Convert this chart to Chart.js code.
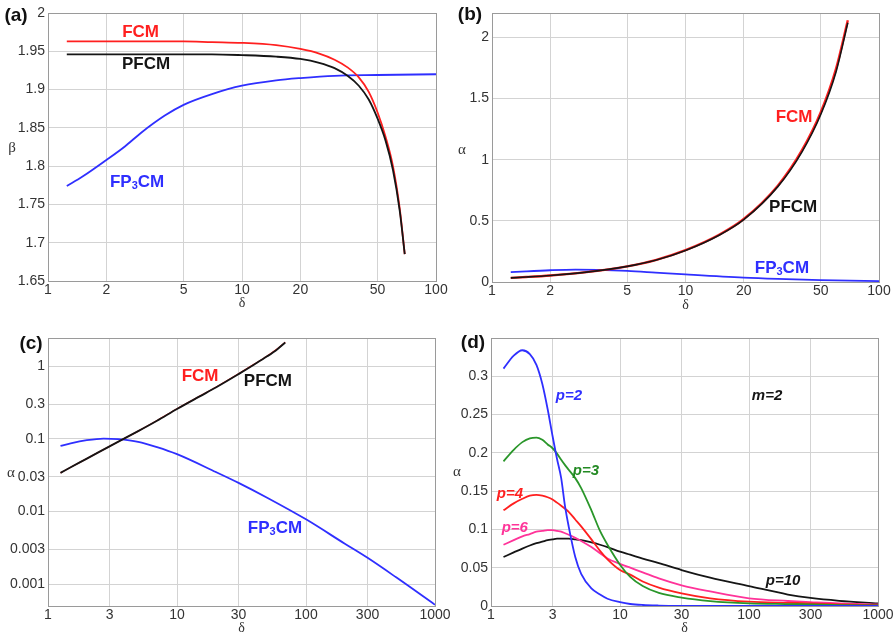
<!DOCTYPE html>
<html>
<head>
<meta charset="utf-8">
<script src="https://cdn.jsdelivr.net/npm/chart.js@4.4.0/dist/chart.umd.min.js"></script>
<style>
  html, body { margin: 0; padding: 0; background: #fff; }
  #wrap { position: relative; width: 895px; height: 637px; overflow: hidden; }
  canvas { position: absolute; }
</style>
</head>
<body>
<div id="wrap">
  <canvas id="cA" width="470" height="310" style="left:0;top:0"></canvas>
  <canvas id="cB" width="450" height="310" style="left:445px;top:0"></canvas>
  <canvas id="cC" width="470" height="327" style="left:0;top:310px"></canvas>
  <canvas id="cD" width="450" height="327" style="left:445px;top:310px"></canvas>
</div>
<script>
"use strict";

// ── DATA ────────────────────────────────────
// (a) beta vs delta
const xBetaFcm   = [1.25, 1.5, 2, 3, 5, 7, 10, 15, 20, 25, 30, 35, 40, 45, 50, 55, 60, 65, 69];
const betaFCM    = [1.963, 1.963, 1.963, 1.963, 1.963, 1.962, 1.961, 1.958, 1.953, 1.947, 1.939, 1.929, 1.916, 1.897, 1.870, 1.838, 1.800, 1.745, 1.685];
const betaPFCM   = [1.946, 1.946, 1.946, 1.946, 1.946, 1.946, 1.945, 1.943, 1.940, 1.935, 1.928, 1.918, 1.905, 1.887, 1.862, 1.833, 1.795, 1.742, 1.685];
const xBetaFp3   = [1.25, 1.5, 2, 2.5, 3, 4, 5, 7, 10, 15, 20, 30, 50, 100];
const betaFP3CM  = [1.774, 1.786, 1.808, 1.826, 1.843, 1.866, 1.880, 1.894, 1.905, 1.912, 1.915, 1.918, 1.919, 1.920];

// (b), (c) alpha vs delta
const xAlphaFcm  = [1.25, 1.5, 2, 3, 5, 7, 10, 15, 20, 30, 40, 50, 60, 69];
const alphaPFCM  = [0.034, 0.0407, 0.0535, 0.079, 0.128, 0.178, 0.258, 0.385, 0.510, 0.780, 1.065, 1.370, 1.720, 2.120];
const alphaFCM   = [0.034, 0.0407, 0.0535, 0.079, 0.128, 0.179, 0.260, 0.388, 0.515, 0.788, 1.078, 1.388, 1.745, 2.140];
const xAlphaFp3  = [1.25, 1.5, 2, 2.7, 3.5, 5, 7, 10, 20, 30, 50, 100, 200, 300, 500, 1000];
const alphaFP3CM = [0.080, 0.087, 0.096, 0.101, 0.099, 0.091, 0.077, 0.0616, 0.035, 0.0248, 0.0155, 0.0078, 0.0036, 0.0023, 0.00124, 0.00052];

// (d) alpha vs delta for several p (m=2)
const xD   = [1.25, 1.5, 1.75, 2, 2.25, 2.5, 2.75, 3, 3.25, 3.5, 3.75, 4, 4.5, 5, 6, 7, 8, 10, 12, 15, 20, 30, 50, 100, 200, 300, 500, 1000];
const p2   = [0.310, 0.327, 0.334, 0.329, 0.315, 0.290, 0.257, 0.222, 0.192, 0.167, 0.130, 0.104, 0.064, 0.042, 0.023, 0.015, 0.0095, 0.005, 0.0026, 0.0013, 0.0006, 0.0002, 0.0001, 0, 0, 0, 0, 0];
const p3   = [0.189, 0.204, 0.214, 0.219, 0.220, 0.217, 0.211, 0.206, 0.199, 0.191, 0.184, 0.178, 0.167, 0.154, 0.125, 0.098, 0.080, 0.054, 0.038, 0.026, 0.017, 0.011, 0.0065, 0.0035, 0.0025, 0.002, 0.0012, 0.0008];
const p4   = [0.125, 0.134, 0.140, 0.144, 0.145, 0.144, 0.142, 0.139, 0.135, 0.131, 0.127, 0.123, 0.113, 0.104, 0.087, 0.072, 0.061, 0.047, 0.041, 0.032, 0.024, 0.0165, 0.010, 0.0056, 0.0042, 0.0035, 0.0022, 0.0013];
const p6   = [0.080, 0.086, 0.091, 0.094, 0.097, 0.098, 0.099, 0.099, 0.098, 0.097, 0.095, 0.093, 0.089, 0.085, 0.077, 0.069, 0.062, 0.055, 0.050, 0.044, 0.036, 0.027, 0.019, 0.010, 0.0065, 0.005, 0.0033, 0.002];
const p10  = [0.064, 0.070, 0.075, 0.079, 0.082, 0.084, 0.086, 0.087, 0.088, 0.088, 0.088, 0.088, 0.087, 0.086, 0.083, 0.080, 0.077, 0.071, 0.067, 0.062, 0.056, 0.047, 0.037, 0.026, 0.015, 0.0105, 0.0068, 0.0035];

// ── TICKS ───────────────────────────────────
const xTicksA   = [1, 2, 5, 10, 20, 50, 100];
const yTicksA   = [1.65, 1.7, 1.75, 1.8, 1.85, 1.9, 1.95, 2];
const yTicksB   = [0, 0.5, 1, 1.5, 2];
const xTicksCD  = [1, 3, 10, 30, 100, 300, 1000];
const yTicksC   = [0.001, 0.003, 0.01, 0.03, 0.1, 0.3, 1];
const yTicksD   = [0, 0.05, 0.1, 0.15, 0.2, 0.25, 0.3];

// ── STYLE ───────────────────────────────────
const RED = "#ff1f1f", BLACK = "#151515", BLUE = "#2f2fff", GREEN = "#2a962a", PINK = "#ff3399";
const GRID = "#d3d3d3", BOX = "#9a9a9a", TICK = "#333";
const SANS = "'Liberation Sans', Arial, sans-serif";
const SERIF = "'Liberation Serif', 'DejaVu Serif', serif";

const pts = (xs, ys) => xs.map((x, i) => ({ x, y: ys[i] }));
const line = (xs, ys, color, w) => ({ data: pts(xs, ys), borderColor: color, borderWidth: w || 1.8 });

const FP3 = [{ t: "FP" }, { t: "3", sub: true }, { t: "CM" }];
const modelFont = "bold 17px " + SANS;
const pFont = "italic bold 15px " + SANS;

/* text + box plugin: panel letters, axis symbols and curve labels */
function drawRich(ctx, it, x, y) {
  const segs = it.segs || [{ t: it.text }];
  const big = it.font, small = it.font.replace(/\d+px/, "11px");
  let w = 0;
  segs.forEach(s => { ctx.font = s.sub ? small : big; w += ctx.measureText(s.t).width; });
  let cx = x - w / 2;
  ctx.fillStyle = it.color;
  ctx.textAlign = "left";
  ctx.textBaseline = "middle";
  segs.forEach(s => {
    ctx.font = s.sub ? small : big;
    ctx.fillText(s.t, cx, s.sub ? y + 4 : y);
    cx += ctx.measureText(s.t).width;
  });
}

const textPlugin = {
  id: "panelText",
  afterDraw(chart, args, opts) {
    const { ctx, chartArea: a, scales } = chart;
    ctx.save();
    ctx.strokeStyle = BOX;
    ctx.lineWidth = 1;
    ctx.strokeRect(Math.round(a.left) + 0.5, Math.round(a.top) + 0.5,
                   Math.round(a.right - a.left), Math.round(a.bottom - a.top));
    (opts.items || []).forEach(it => {
      let x = it.px, y = it.py;
      if (it.x !== undefined) {
        x = scales.x.getPixelForValue(it.x);
        y = scales.y.getPixelForValue(it.y);
      }
      drawRich(ctx, it, x, y);
    });
    ctx.restore();
  }
};

/* shared panel factory */
function panel(id, p) {
  const tickFont = { family: SANS, size: 14 };
  return new Chart(document.getElementById(id), {
    type: "line",
    data: { datasets: p.datasets },
    plugins: [textPlugin],
    options: {
      responsive: false,
      animation: false,
      layout: { padding: p.pad },
      elements: { point: { radius: 0 }, line: { cubicInterpolationMode: "monotone" } },
      plugins: { legend: { display: false }, tooltip: { enabled: false }, panelText: { items: p.texts } },
      scales: {
        x: {
          type: "logarithmic", min: p.xMin, max: p.xMax,
          afterBuildTicks: s => { s.ticks = p.xTicks.map(v => ({ value: v })); },
          afterFit: s => { s.height = p.xH; s.paddingLeft = 0; s.paddingRight = 0; },
          ticks: { color: TICK, font: tickFont, padding: 1, maxRotation: 0, autoSkip: false, callback: v => String(v) },
          grid: { color: GRID, drawTicks: false },
          border: { color: BOX },
          title: { display: true, text: "δ", color: "#333", font: { family: SERIF, size: 14, lineHeight: 1 }, padding: { top: 0, bottom: p.titlePad } }
        },
        y: {
          type: p.yType, min: p.yMin, max: p.yMax,
          afterBuildTicks: s => { s.ticks = p.yTicks.map(v => ({ value: v })); },
          afterFit: s => { s.width = p.yW; s.paddingTop = 0; s.paddingBottom = 0; },
          ticks: { color: TICK, font: tickFont, padding: 3, autoSkip: false, callback: v => String(v) },
          grid: { color: GRID, drawTicks: false },
          border: { color: BOX }
        }
      }
    }
  });
}

// ── (a) ─────────────────────────────────────
panel("cA", {
  pad: { left: 0, top: 13, right: 34, bottom: 0 }, yW: 48, xH: 29, titlePad: 0,
  xMin: 1, xMax: 100, xTicks: xTicksA,
  yType: "linear", yMin: 1.65, yMax: 2, yTicks: yTicksA,
  datasets: [
    line(xBetaFcm, betaPFCM, BLACK),
    line(xBetaFcm, betaFCM, RED),
    line(xBetaFp3, betaFP3CM, BLUE)
  ],
  texts: [
    { text: "(a)", px: 16, py: 16, font: "bold 19px " + SANS, color: "#111" },
    { text: "β", px: 12, py: 148, font: "15px " + SERIF, color: "#333" },
    { text: "FCM", x: 3.0, y: 1.975, font: modelFont, color: RED },
    { text: "PFCM", x: 3.2, y: 1.933, font: modelFont, color: BLACK },
    { segs: FP3, x: 2.88, y: 1.779, font: modelFont, color: BLUE }
  ]
});

// ── (b) ─────────────────────────────────────
panel("cB", {
  pad: { left: 0, top: 13, right: 16, bottom: 0 }, yW: 47, xH: 28, titlePad: -2,
  xMin: 1, xMax: 100, xTicks: xTicksA,
  yType: "linear", yMin: 0, yMax: 2.2, yTicks: yTicksB,
  datasets: [
    line(xAlphaFcm, alphaPFCM, BLACK, 1.6),
    line(xAlphaFcm, alphaFCM, RED, 2.4),
    line(xAlphaFp3, alphaFP3CM, BLUE)
  ],
  texts: [
    { text: "(b)", px: 25, py: 15, font: "bold 19px " + SANS, color: "#111" },
    { text: "α", px: 17, py: 150, font: "15px " + SERIF, color: "#333" },
    { text: "FCM", x: 36.4, y: 1.344, font: modelFont, color: RED },
    { text: "PFCM", x: 36, y: 0.607, font: modelFont, color: BLACK },
    { segs: FP3, x: 31.5, y: 0.115, font: modelFont, color: BLUE }
  ]
});

// ── (c) ─────────────────────────────────────
panel("cC", {
  pad: { left: 0, top: 28, right: 35, bottom: 0 }, yW: 48, xH: 31, titlePad: 2,
  xMin: 1, xMax: 1000, xTicks: xTicksCD,
  yType: "logarithmic", yMin: 0.0005, yMax: 2.45, yTicks: yTicksC,
  datasets: [
    line(xAlphaFcm, alphaPFCM, BLACK, 1.9),
    line(xAlphaFcm, alphaFCM, RED, 1.3),
    line(xAlphaFp3, alphaFP3CM, BLUE)
  ],
  texts: [
    { text: "(c)", px: 31, py: 34, font: "bold 19px " + SANS, color: "#111" },
    { text: "α", px: 11, py: 163, font: "15px " + SERIF, color: "#333" },
    { text: "FCM", x: 15.1, y: 0.729, font: modelFont, color: RED },
    { text: "PFCM", x: 50.7, y: 0.622, font: modelFont, color: BLACK },
    { segs: FP3, x: 57.5, y: 0.0059, font: modelFont, color: BLUE }
  ]
});

// ── (d) ─────────────────────────────────────
panel("cD", {
  pad: { left: 0, top: 28, right: 17, bottom: 0 }, yW: 46, xH: 31, titlePad: 2,
  xMin: 1, xMax: 1000, xTicks: xTicksCD,
  yType: "linear", yMin: 0, yMax: 0.35, yTicks: yTicksD,
  datasets: [
    line(xD, p2, BLUE),
    line(xD, p3, GREEN),
    line(xD, p4, RED),
    line(xD, p6, PINK),
    line(xD, p10, BLACK)
  ],
  texts: [
    { text: "(d)", px: 28, py: 33, font: "bold 19px " + SANS, color: "#111" },
    { text: "α", px: 12, py: 162, font: "15px " + SERIF, color: "#333" },
    { text: "p=2", x: 4.02, y: 0.274, font: pFont, color: BLUE },
    { text: "m=2", x: 138, y: 0.275, font: pFont, color: BLACK },
    { text: "p=3", x: 5.45, y: 0.176, font: pFont, color: "#238a23" },
    { text: "p=4", x: 1.40, y: 0.147, font: pFont, color: RED },
    { text: "p=6", x: 1.53, y: 0.102, font: pFont, color: PINK },
    { text: "p=10", x: 184, y: 0.0326, font: pFont, color: BLACK }
  ]
});
</script>
</body>
</html>
